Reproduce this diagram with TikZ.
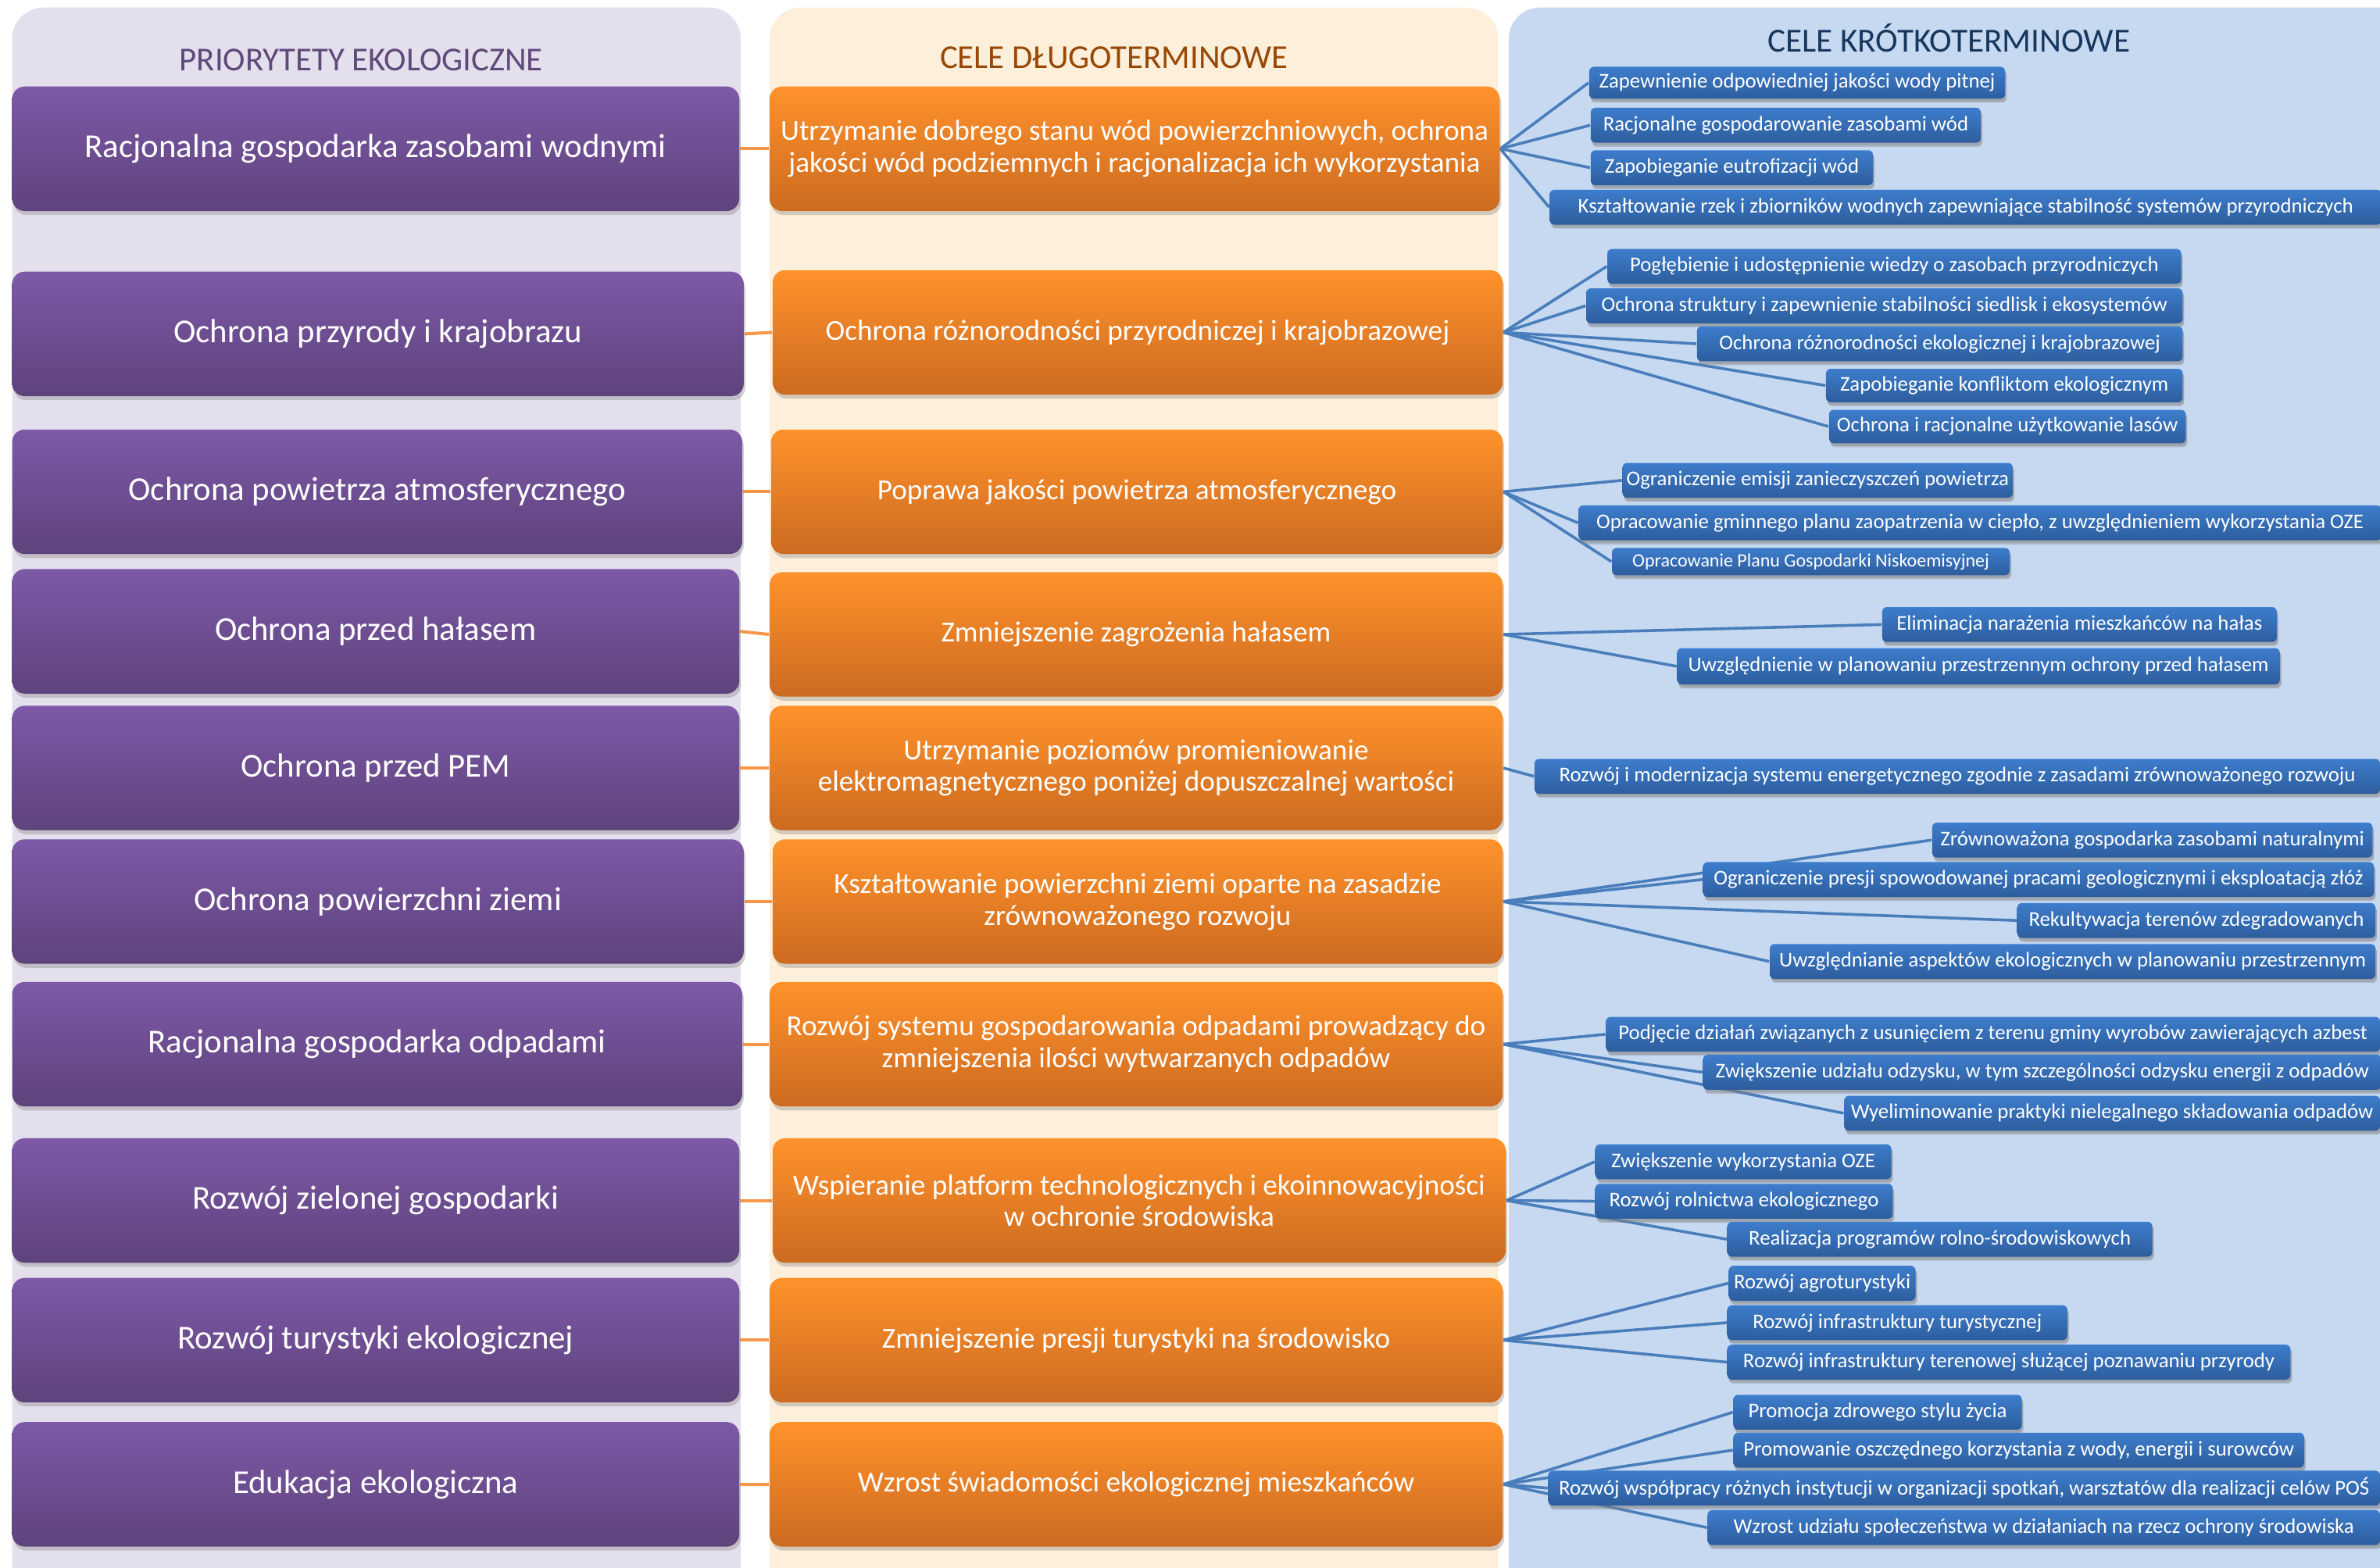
\documentclass[tikz,border=0pt]{standalone}
\usepackage{fontspec}
\setmainfont{Carlito}
\usetikzlibrary{shadows}
\pgfdeclarelayer{bg}
\pgfdeclarelayer{lines}
\pgfsetlayers{bg,lines,main}

\definecolor{panelP}{HTML}{E4DFEC}
\definecolor{panelO}{HTML}{FDEFD9}
\definecolor{panelB}{HTML}{C6D9F1}
\definecolor{purpTop}{HTML}{7D59A7}
\definecolor{purpBot}{HTML}{5E437C}
\definecolor{orTop}{HTML}{FF922B}
\definecolor{orBot}{HTML}{CC6A20}
\definecolor{blTop}{HTML}{3D7DCC}
\definecolor{blBot}{HTML}{2D5D9D}
\definecolor{hdrP}{HTML}{5F497A}
\definecolor{hdrO}{HTML}{984806}
\definecolor{hdrB}{HTML}{17375E}
\definecolor{lineO}{HTML}{F79646}
\definecolor{lineB}{HTML}{4A7EBB}

\tikzset{
  basebox/.style={draw=none, text=white, align=center, inner sep=0pt,
    drop shadow={opacity=0.35, shadow xshift=0.5pt, shadow yshift=-1.3pt}},
  pbox/.style={basebox, rounded corners=4pt, top color=purpTop, bottom color=purpBot,
    font=\fontsize{10.7}{12}\selectfont},
  obox/.style={basebox, rounded corners=4pt, top color=orTop, bottom color=orBot,
    font=\fontsize{9.3}{10.2}\selectfont},
  bbox/.style={basebox, rounded corners=1.5pt, top color=blTop, bottom color=blBot,
    font=\fontsize{6.7}{7.5}\selectfont,
    drop shadow={opacity=0.35, shadow xshift=0.4pt, shadow yshift=-0.9pt}},
  bboxs/.style={bbox, font=\fontsize{6.0}{6.8}\selectfont},
  hdr/.style={anchor=base, inner sep=0pt, font=\fontsize{10.7}{12}\selectfont},
  pline/.style={draw=lineO, line width=1pt},
  bline/.style={draw=lineB, line width=0.9pt},
}

\newcommand{\mkbox}[7]{%
  \pgfmathsetmacro{\bxcx}{(#3+#5)/2}%
  \pgfmathsetmacro{\bxcy}{(#4+#6)/2}%
  \pgfmathsetmacro{\bxw}{(#5-#3)*0.4857}%
  \pgfmathsetmacro{\bxh}{(#6-#4)*0.4857}%
  \node[#1, minimum width=\bxw pt, minimum height=\bxh pt] (#2) at (\bxcx,\bxcy) {#7};%
}

\begin{document}
\begin{tikzpicture}[x=0.4857pt, y=-0.4857pt]
\useasboundingbox (0,0) rectangle (1568,1033);

\begin{pgfonlayer}{bg}
  \fill[white] (0,0) rectangle (1568,1033);
  \fill[panelP, rounded corners=10pt] (8,5) rectangle (488,1070);
  \fill[panelO, rounded corners=10pt] (507,5) rectangle (987,1070);
  \fill[panelB, rounded corners=10pt] (994,5) rectangle (1600,1070);
\end{pgfonlayer}

% headers
\node[hdr, text=hdrP] (h1) at (238,46.8) {PRIORYTETY EKOLOGICZNE};
\node[hdr, text=hdrO] (h2) at (734,45) {CELE DŁUGOTERMINOWE};
\node[hdr, text=hdrB, font=\fontsize{10.8}{12}\selectfont] (h3) at (1284,34.4) {CELE KRÓTKOTERMINOWE};

% priorities
\mkbox{pbox}{p1}{8}{57}{487}{139}{Racjonalna gospodarka zasobami wodnymi}
\mkbox{pbox}{p2}{8}{179}{490}{261}{Ochrona przyrody i krajobrazu}
\mkbox{pbox}{p3}{8}{283}{489}{365}{Ochrona powietrza atmosferycznego}
\mkbox{pbox}{p4}{8}{375}{487}{457}{Ochrona przed hałasem}
\mkbox{pbox}{p5}{8}{465}{487}{547}{Ochrona przed PEM}
\mkbox{pbox}{p6}{8}{553}{490}{635}{Ochrona powierzchni ziemi}
\mkbox{pbox}{p7}{8}{647}{489}{729}{Racjonalna gospodarka odpadami}
\mkbox{pbox}{p8}{8}{750}{487}{832}{Rozwój zielonej gospodarki}
\mkbox{pbox}{p9}{8}{842}{487}{924}{Rozwój turystyki ekologicznej}
\mkbox{pbox}{p10}{8}{937}{487}{1019}{Edukacja ekologiczna}

% long-term goals
\mkbox{obox}{o1}{507}{57}{988}{139}{Utrzymanie dobrego stanu wód powierzchniowych, ochrona\\jakości wód podziemnych i racjonalizacja ich wykorzystania}
\mkbox{obox}{o2}{509}{178}{990}{260}{Ochrona różnorodności przyrodniczej i krajobrazowej}
\mkbox{obox}{o3}{508}{283}{990}{365}{Poprawa jakości powietrza atmosferycznego}
\mkbox{obox}{o4}{507}{377}{990}{459}{Zmniejszenie zagrożenia hałasem}
\mkbox{obox}{o5}{507}{465}{990}{547}{Utrzymanie poziomów promieniowanie\\elektromagnetycznego poniżej dopuszczalnej wartości}
\mkbox{obox}{o6}{509}{553}{990}{635}{Kształtowanie powierzchni ziemi oparte na zasadzie\\zrównoważonego rozwoju}
\mkbox{obox}{o7}{507}{647}{990}{729}{Rozwój systemu gospodarowania odpadami prowadzący do\\zmniejszenia ilości wytwarzanych odpadów}
\mkbox{obox}{o8}{509}{750}{992}{832}{Wspieranie platform technologicznych i ekoinnowacyjności\\w ochronie środowiska}
\mkbox{obox}{o9}{507}{842}{990}{924}{Zmniejszenie presji turystyki na środowisko}
\mkbox{obox}{o10}{507}{937}{990}{1019}{Wzrost świadomości ekologicznej mieszkańców}

% short-term goals
\mkbox{bbox}{b11}{1047}{44}{1321}{65}{Zapewnienie odpowiedniej jakości wody pitnej}
\mkbox{bbox}{b12}{1048}{71}{1305}{94}{Racjonalne gospodarowanie zasobami wód}
\mkbox{bbox}{b13}{1048}{99}{1234}{122}{Zapobieganie eutrofizacji wód}
\mkbox{bbox}{b14}{1021}{125}{1569}{148}{Kształtowanie rzek i zbiorników wodnych zapewniające stabilność systemów przyrodniczych}

\mkbox{bbox}{b21}{1059}{164}{1437}{187}{Pogłębienie i udostępnienie wiedzy o zasobach przyrodniczych}
\mkbox{bbox}{b22}{1045}{190}{1438}{213}{Ochrona struktury i zapewnienie stabilności siedlisk i ekosystemów}
\mkbox{bbox}{b23}{1118}{215}{1438}{238}{Ochrona różnorodności ekologicznej i krajobrazowej}
\mkbox{bbox}{b24}{1203}{243}{1438}{265}{Zapobieganie konfliktom ekologicznym}
\mkbox{bbox}{b25}{1205}{270}{1440}{292}{Ochrona i racjonalne użytkowanie lasów}

\mkbox{bbox}{b31}{1069}{305}{1326}{328}{Ograniczenie emisji zanieczyszczeń powietrza}
\mkbox{bbox}{b32}{1040}{333}{1569}{356}{Opracowanie gminnego planu zaopatrzenia w ciepło, z uwzględnieniem wykorzystania OZE}
\mkbox{bboxs}{b33}{1062}{361}{1324}{379}{Opracowanie Planu Gospodarki Niskoemisyjnej}

\mkbox{bbox}{b41}{1240}{400}{1500}{423}{Eliminacja narażenia mieszkańców na hałas}
\mkbox{bbox}{b42}{1105}{427}{1502}{451}{Uwzględnienie w planowaniu przestrzennym ochrony przed hałasem}

\mkbox{bbox}{b51}{1011}{500}{1568}{523}{Rozwój i modernizacja systemu energetycznego zgodnie z zasadami zrównoważonego rozwoju}

\mkbox{bbox}{b61}{1273}{542}{1563}{565}{Zrównoważona gospodarka zasobami naturalnymi}
\mkbox{bbox}{b62}{1122}{568}{1564}{591}{Ograniczenie presji spowodowanej pracami geologicznymi i eksploatacją złóż}
\mkbox{bbox}{b63}{1329}{595}{1565}{618}{Rekultywacja terenów zdegradowanych}
\mkbox{bbox}{b64}{1166}{622}{1565}{645}{Uwzględnianie aspektów ekologicznych w planowaniu przestrzennym}

\mkbox{bbox}{b71}{1058}{670}{1568}{693}{Podjęcie działań związanych z usunięciem z terenu gminy wyrobów zawierających azbest}
\mkbox{bbox}{b72}{1122}{695}{1569}{718}{Zwiększenie udziału odzysku, w tym szczególności odzysku energii z odpadów}
\mkbox{bbox}{b73}{1215}{722}{1568}{745}{Wyeliminowanie praktyki nielegalnego składowania odpadów}

\mkbox{bbox}{b81}{1051}{754}{1246}{777}{Zwiększenie wykorzystania OZE}
\mkbox{bbox}{b82}{1051}{780}{1247}{803}{Rozwój rolnictwa ekologicznego}
\mkbox{bbox}{b83}{1138}{805}{1418}{828}{Realizacja programów rolno-środowiskowych}

\mkbox{bbox}{b91}{1139}{834}{1262}{857}{Rozwój agroturystyki}
\mkbox{bbox}{b92}{1138}{860}{1362}{883}{Rozwój infrastruktury turystycznej}
\mkbox{bbox}{b93}{1138}{886}{1509}{909}{Rozwój infrastruktury terenowej służącej poznawaniu przyrody}

\mkbox{bbox}{b101}{1142}{919}{1332}{942}{Promocja zdrowego stylu życia}
\mkbox{bbox}{b102}{1142}{944}{1518}{967}{Promowanie oszczędnego korzystania z wody, energii i surowców}
\mkbox{bbox}{b103}{1020}{969}{1568}{992}{Rozwój współpracy różnych instytucji w organizacji spotkań, warsztatów dla realizacji celów POŚ}
\mkbox{bbox}{b104}{1125}{995}{1568}{1018}{Wzrost udziału społeczeństwa w działaniach na rzecz ochrony środowiska}

% connectors
\begin{pgfonlayer}{lines}
  \foreach \i in {1,...,10} \draw[pline] (p\i.east) -- (o\i.west);
  \foreach \b in {b11,b12,b13,b14} \draw[bline] (o1.east) -- (\b.west);
  \foreach \b in {b21,b22,b23,b24,b25} \draw[bline] (o2.east) -- (\b.west);
  \foreach \b in {b31,b32,b33} \draw[bline] (o3.east) -- (\b.west);
  \foreach \b in {b41,b42} \draw[bline] (o4.east) -- (\b.west);
  \foreach \b in {b51} \draw[bline] (o5.east) -- (\b.west);
  \foreach \b in {b61,b62,b63,b64} \draw[bline] (o6.east) -- (\b.west);
  \foreach \b in {b71,b72,b73} \draw[bline] (o7.east) -- (\b.west);
  \foreach \b in {b81,b82,b83} \draw[bline] (o8.east) -- (\b.west);
  \foreach \b in {b91,b92,b93} \draw[bline] (o9.east) -- (\b.west);
  \foreach \b in {b101,b102,b103,b104} \draw[bline] (o10.east) -- (\b.west);
\end{pgfonlayer}
\end{tikzpicture}
\end{document}
